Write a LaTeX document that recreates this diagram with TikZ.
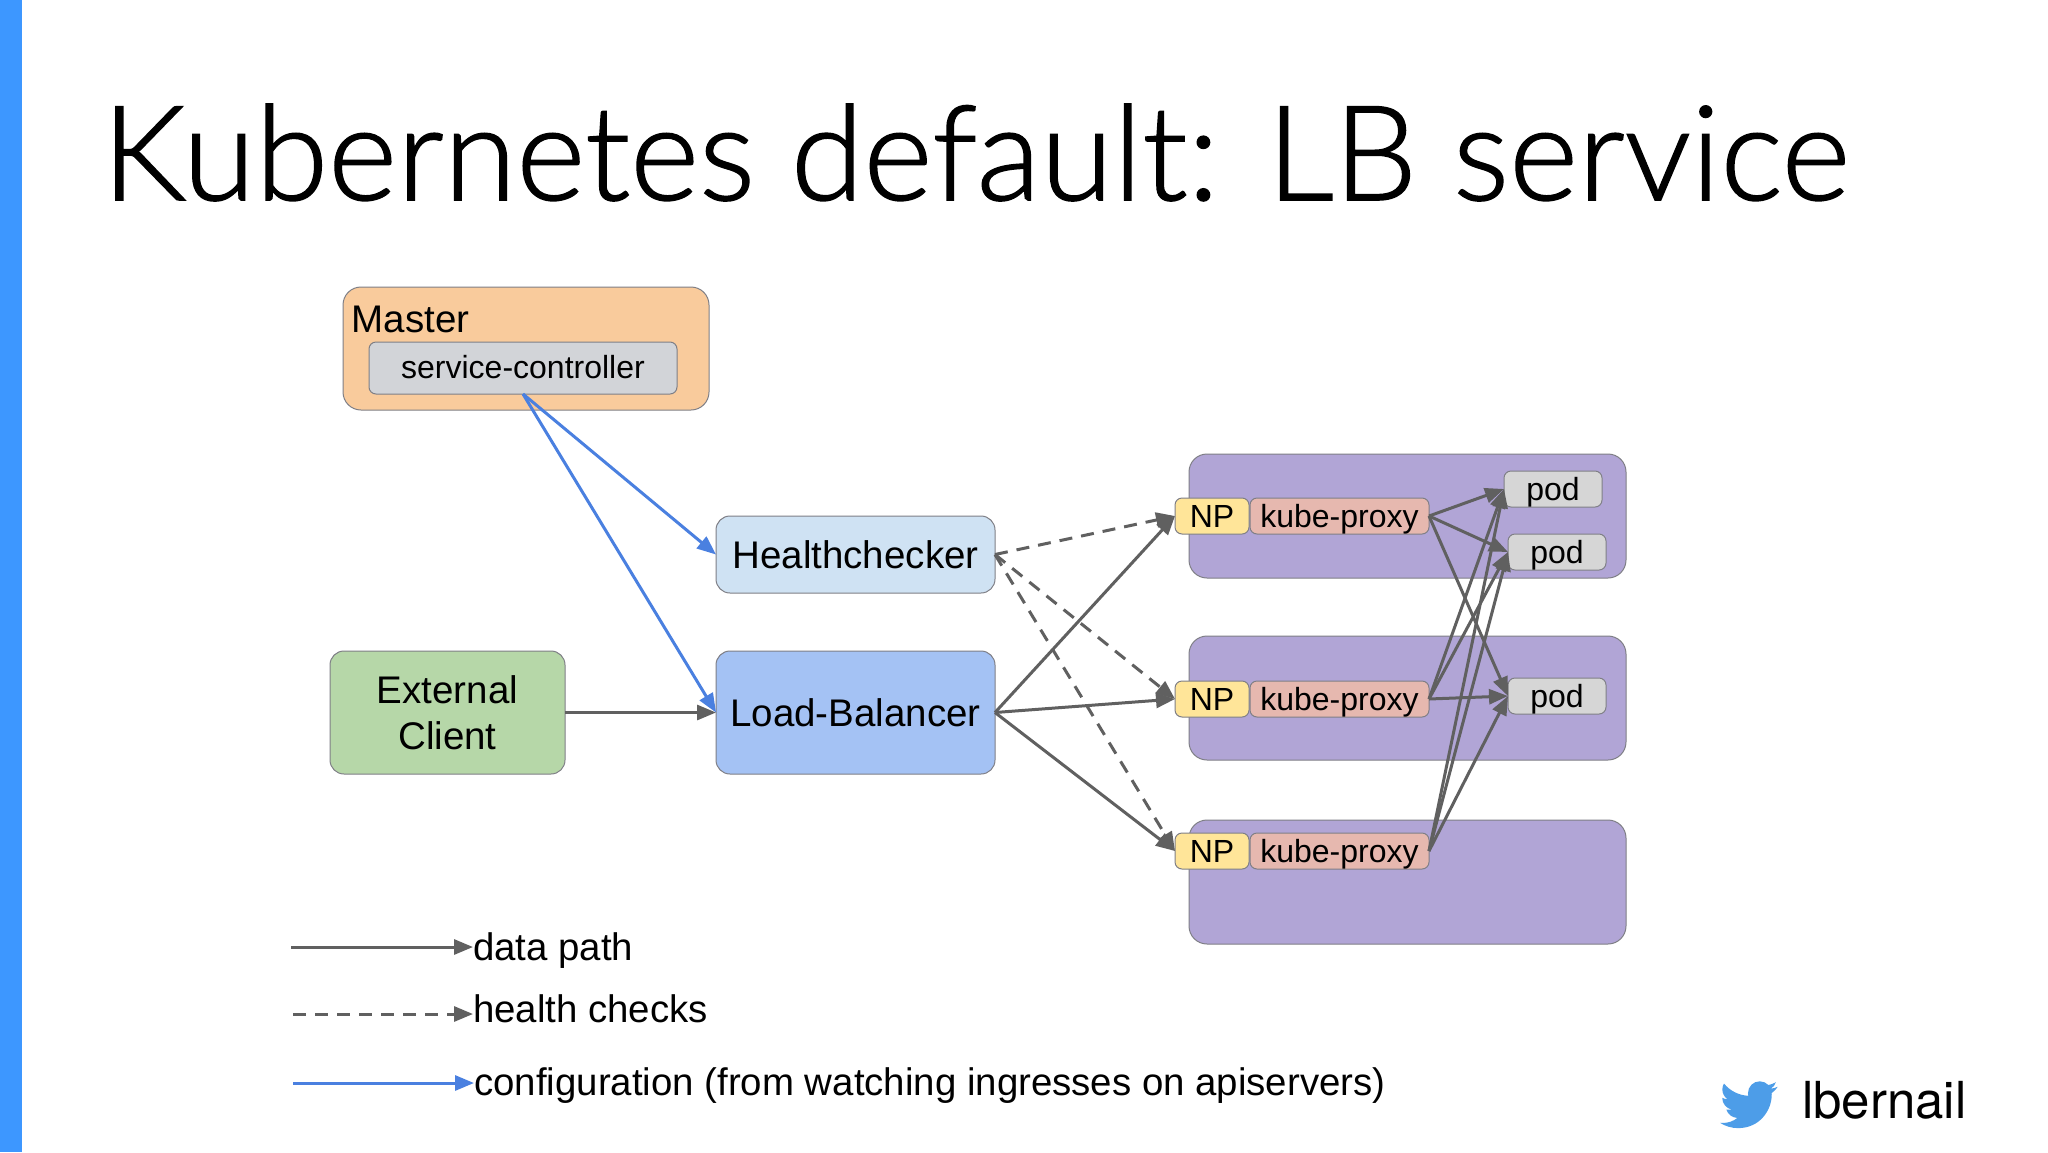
\documentclass[tikz,border=0pt]{standalone}
\usepackage{fontspec}
\setmainfont{Liberation Sans}
\newfontfamily\titlefont[FakeBold=1.2]{Lato Light}
\newfontfamily\handlefont{TeX Gyre Heros}
\usetikzlibrary{arrows.meta}
\definecolor{barblue}{HTML}{3D97FF}
\definecolor{birdblue}{HTML}{4D9DE8}
\definecolor{edgegrey}{HTML}{7F7F86}
\definecolor{arrowgrey}{HTML}{606060}
\definecolor{cfgblue}{HTML}{4A80E0}
\definecolor{workerfill}{HTML}{B1A5D6}
\definecolor{masterfill}{HTML}{F9CB9C}
\definecolor{svcfill}{HTML}{D2D4D8}
\definecolor{hcfill}{HTML}{CFE2F3}
\definecolor{lbfill}{HTML}{A4C2F4}
\definecolor{clientfill}{HTML}{B6D7A8}
\definecolor{npfill}{HTML}{FFE599}
\definecolor{kpfill}{HTML}{E6B8AF}
\definecolor{podfill}{HTML}{D6D6D6}
\tikzset{
  box/.style={draw=edgegrey,line width=1pt,anchor=north west,inner sep=0pt,outer sep=0pt,align=center},
  bigbox/.style={box,rounded corners=14pt,text=black,font=\fontsize{38.5}{46}\selectfont},
  smallbox/.style={box,rounded corners=7pt,font=\fontsize{32}{38}\selectfont,minimum height=36pt,text height=23pt,text depth=0pt},
  data/.style={draw=arrowgrey,line width=3pt,-{Triangle[length=19pt,width=15pt]}},
  health/.style={data,dash pattern=on 13pt off 9pt},
  config/.style={data,draw=cfgblue,-{Triangle[length=19pt,width=15pt,fill=cfgblue]}},
  legendtext/.style={anchor=base west,inner sep=0pt,font=\fontsize{38.4}{44}\selectfont}
}
\begin{document}
\begin{tikzpicture}[x=1pt,y=-1pt]
\path[use as bounding box,fill=white] (0,0) rectangle (2048,1152);
\fill[barblue] (0,0) rectangle (22,1152);
\node[anchor=base west,inner sep=0pt,font=\titlefont\fontsize{132}{150}\selectfont] (title) at (102,200) {Kubernetes default: LB service};

% workers
\node[bigbox,fill=workerfill,minimum width=437pt,minimum height=124pt,rounded corners=18pt] (w1) at (1189,454) {};
\node[bigbox,fill=workerfill,minimum width=437pt,minimum height=124pt,rounded corners=18pt] (w2) at (1189,636) {};
\node[bigbox,fill=workerfill,minimum width=437pt,minimum height=124pt,rounded corners=18pt] (w3) at (1189,820) {};

% left boxes
\node[bigbox,fill=masterfill,minimum width=366pt,minimum height=123pt,rounded corners=18pt] (master) at (343,287) {};
\node[anchor=base west,inner sep=0pt,font=\fontsize{38.5}{46}\selectfont] (masterlabel) at (351.5,332) {Master};
\node[smallbox,fill=svcfill,minimum width=308pt,minimum height=52pt,text height=21.5pt] (svc) at (369,342) {service-controller};
\node[bigbox,fill=hcfill,minimum width=279pt,minimum height=77pt] (hc) at (716,516) {Healthchecker};
\node[bigbox,fill=lbfill,minimum width=279pt,minimum height=123pt] (lb) at (716,651) {Load-Balancer};
\node[bigbox,fill=clientfill,minimum width=235pt,minimum height=123pt] (client) at (330,651) {External\\Client};

% node ports and proxies
\node[smallbox,fill=npfill,minimum width=74pt] (np1) at (1175,498) {NP};
\node[smallbox,fill=kpfill,minimum width=179pt] (kp1) at (1250,498) {kube-proxy};
\node[smallbox,fill=npfill,minimum width=74pt] (np2) at (1175,681) {NP};
\node[smallbox,fill=kpfill,minimum width=179pt] (kp2) at (1250,681) {kube-proxy};
\node[smallbox,fill=npfill,minimum width=74pt] (np3) at (1175,833) {NP};
\node[smallbox,fill=kpfill,minimum width=179pt] (kp3) at (1250,833) {kube-proxy};

% pods
\node[smallbox,fill=podfill,minimum width=98pt] (pod1) at (1504,471) {pod};
\node[smallbox,fill=podfill,minimum width=98pt] (pod2) at (1508,534) {pod};
\node[smallbox,fill=podfill,minimum width=98pt] (pod3) at (1508,678) {pod};

% connectors
\draw[config] (svc.south) -- (hc.west);
\draw[config] (svc.south) -- (lb.west);
\draw[data] (client.east) -- (lb.west);
\draw[data] (lb.east) -- (np1.west);
\draw[data] (lb.east) -- (np2.west);
\draw[data] (lb.east) -- (np3.west);
\draw[health] (hc.east) -- (np1.west);
\draw[health] (hc.east) -- (np2.west);
\draw[health] (hc.east) -- (np3.west);
\foreach \k in {kp1,kp2,kp3}{
  \foreach \p in {pod1,pod2,pod3}{
    \draw[data] (\k.east) -- (\p.west);
  }
}

% legend
\node[legendtext] (t1) at (473,960) {data path};
\node[legendtext] (t2) at (473,1022) {health checks};
\node[legendtext] (t3) at (474,1095) {configuration (from watching ingresses on apiservers)};
\coordinate (l1) at (291,947);
\coordinate (l2) at (293,1014);
\coordinate (l3) at (293,1083);
\draw[data] (l1) -- (t1.west |- l1);
\draw[health] (l2) -- (t2.west |- l2);
\draw[config] (l3) -- (t3.west |- l3);

% handle
\begin{scope}[shift={(1720,1075.9)},x=2.4pt,y=-2.4pt]
\fill[birdblue] (23.953,4.57)
 .. controls (23.07,4.96) and (22.12,5.22) .. (21.128,5.345)
 .. controls (22.15,4.73) and (22.93,3.77) .. (23.291,2.622)
 .. controls (22.34,3.177) and (21.286,3.581) .. (20.164,3.806)
 .. controls (19.27,2.85) and (18.0,2.25) .. (16.57,2.25)
 .. controls (13.85,2.25) and (11.65,4.45) .. (11.65,7.17)
 .. controls (11.65,7.55) and (11.69,7.93) .. (11.78,8.288)
 .. controls (7.69,8.095) and (4.067,6.13) .. (1.64,3.162)
 .. controls (1.22,3.89) and (0.974,4.73) .. (0.974,5.637)
 .. controls (0.974,7.347) and (1.844,8.85) .. (3.162,9.733)
 .. controls (2.35,9.71) and (1.6,9.48) .. (0.934,9.117)
 -- (0.934,9.177)
 .. controls (0.934,11.56) and (2.63,13.55) .. (4.88,14.004)
 .. controls (4.16,14.2) and (3.4,14.23) .. (2.668,14.089)
 .. controls (3.3,16.05) and (5.12,17.46) .. (7.272,17.506)
 .. controls (5.58,18.83) and (3.46,19.61) .. (1.17,19.611)
 .. controls (0.78,19.611) and (0.391,19.588) .. (0,19.544)
 .. controls (2.18,20.94) and (4.77,21.753) .. (7.557,21.753)
 .. controls (16.61,21.753) and (21.555,14.257) .. (21.555,7.768)
 .. controls (21.555,7.558) and (21.555,7.348) .. (21.54,7.138)
 .. controls (22.5,6.44) and (23.34,5.58) .. (24,4.59)
 -- cycle;
\end{scope}
\node[anchor=base west,inner sep=0pt,font=\handlefont\fontsize{51}{60}\selectfont] (handle) at (1802,1118) {lbernail};
\end{tikzpicture}
\end{document}
